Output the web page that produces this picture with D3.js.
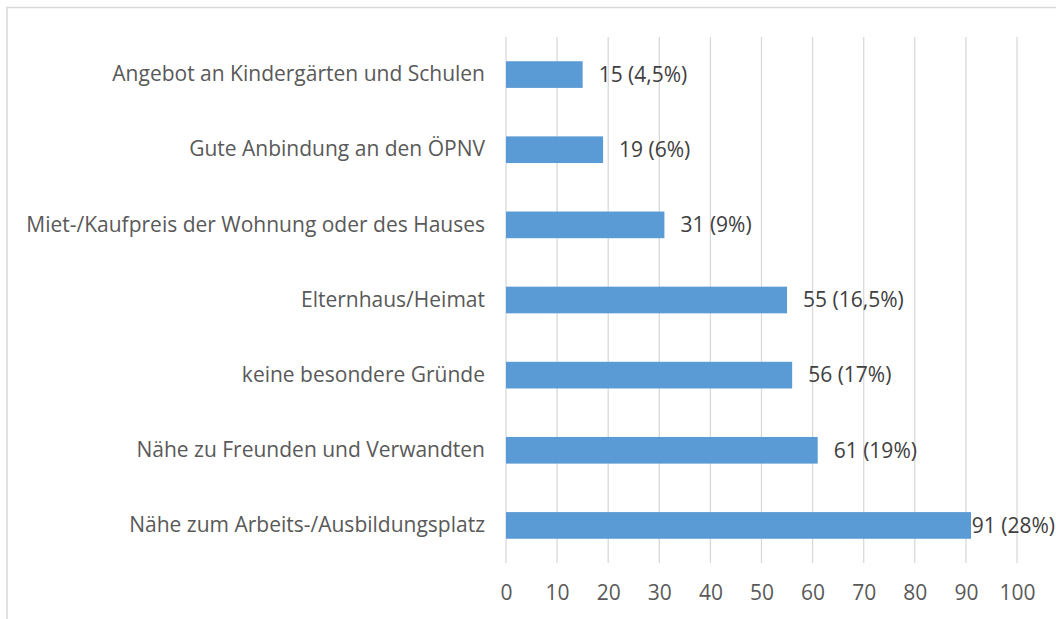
<!DOCTYPE html>
<html>
<head>
<meta charset="utf-8">
<script src="https://cdn.jsdelivr.net/npm/d3@7"></script>
<style>
  html, body { margin: 0; padding: 0; background: #fff; }
  svg { display: block; }
  svg text { font-family: "Open Sans", sans-serif; }
</style>
</head>
<body>
<svg id="chartSvg" width="1056" height="619"></svg>
<script>
// categories top to bottom, values and their share labels
const categories = [
    "Angebot an Kindergärten und Schulen",
    "Gute Anbindung an den ÖPNV",
    "Miet-/Kaufpreis der Wohnung oder des Hauses",
    "Elternhaus/Heimat",
    "keine besondere Gründe",
    "Nähe zu Freunden und Verwandten",
    "Nähe zum Arbeits-/Ausbildungsplatz"
];
const counts = [15, 19, 31, 55, 56, 61, 91];
const shares = ["4,5%", "6%", "9%", "16,5%", "17%", "19%", "28%"];
const xTicks = [0, 10, 20, 30, 40, 50, 60, 70, 80, 90, 100];

const data = categories.map((c, i) => ({ name: c, value: counts[i], share: shares[i] }));

const W = 1056, H = 619;
const margin = { top: 37, right: 39, bottom: 56, left: 506 },
      width = W - margin.left - margin.right,
      height = H - margin.top - margin.bottom;

const fontSize = "21px";
const fontFamily = "'Open Sans', sans-serif";

const root = d3.select("#chartSvg");

// outer chart frame (runs past the right and bottom edge of the page)
root.append("rect")
    .attr("x", 7).attr("y", 7.5)
    .attr("width", W + 20).attr("height", H + 20)
    .attr("fill", "none")
    .attr("stroke", "#d9d9d9")
    .attr("stroke-width", 1.5);

const svg = root.append("g")
    .attr("transform", `translate(${margin.left},${margin.top})`);

const x = d3.scaleLinear().domain([0, 100]).range([0, width]);
const y = d3.scaleBand()
    .domain(categories)
    .range([0, height])
    .paddingInner(0.645)
    .paddingOuter(0.3225);

// vertical gridlines
svg.append("g")
    .selectAll("line")
    .data(xTicks)
    .enter().append("line")
    .attr("x1", d => x(d)).attr("x2", d => x(d))
    .attr("y1", 0).attr("y2", height)
    .attr("stroke", "#d9d9d9")
    .attr("stroke-width", 1.3);

// x axis labels
const xAxis = svg.append("g")
    .attr("transform", `translate(0,${height})`)
    .call(d3.axisBottom(x).tickValues(xTicks).tickSize(0).tickPadding(22));
xAxis.attr("font-family", null).attr("font-size", null);
xAxis.select(".domain").remove();
xAxis.selectAll("text")
    .style("font-family", fontFamily)
    .style("font-size", fontSize)
    .style("fill", "#595959");

// category labels
const yAxis = svg.append("g")
    .call(d3.axisLeft(y).tickSize(0).tickPadding(21));
yAxis.attr("font-family", null).attr("font-size", null);
yAxis.select(".domain").remove();
yAxis.selectAll("text")
    .style("font-family", fontFamily)
    .style("font-size", fontSize)
    .style("fill", "#595959");

// bars
svg.selectAll(".bar")
    .data(data)
    .enter().append("rect")
    .attr("class", "bar")
    .attr("x", x(0))
    .attr("y", d => y(d.name))
    .attr("width", d => x(d.value) - x(0))
    .attr("height", y.bandwidth())
    .attr("fill", "#5b9bd5");

// value labels, pushed back inside the page when they would overflow
svg.selectAll(".bar-label")
    .data(data)
    .enter().append("text")
    .attr("class", "bar-label")
    .attr("y", d => y(d.name) + y.bandwidth() / 2)
    .attr("dy", "0.35em")
    .style("font-family", fontFamily)
    .style("font-size", fontSize)
    .style("fill", "#404040")
    .text(d => `${d.value} (${d.share})`)
    .attr("x", function (d) {
        const len = this.getComputedTextLength();
        const maxX = W - margin.left - len - 1;
        return Math.min(x(d.value) + 16, maxX);
    });
</script>
</body>
</html>
